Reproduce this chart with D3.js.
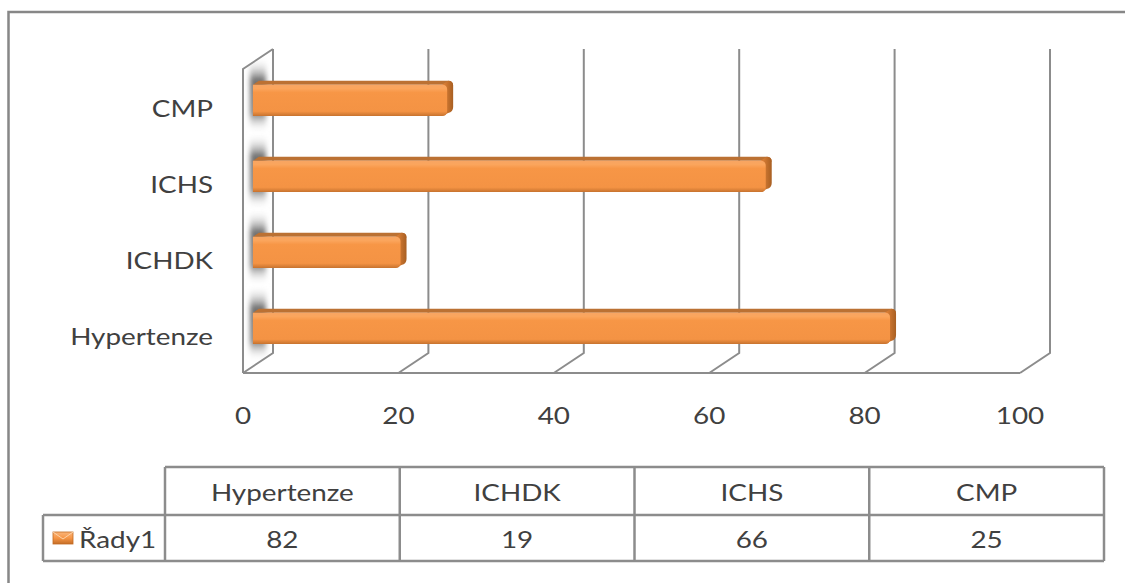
<!DOCTYPE html>
<html>
<head>
<meta charset="utf-8">
<script src="https://cdn.jsdelivr.net/npm/d3@7"></script>
<style>
  html, body { margin: 0; padding: 0; background: #fff; }
  svg { display: block; }
  text { font-family: Lato, "Open Sans", sans-serif; fill: #404040; }
</style>
</head>
<body>
<svg id="chart" width="1125" height="583"></svg>
<script>
// Data
const categories = ["Hypertenze", "ICHDK", "ICHS", "CMP"];
const values = [82, 19, 66, 25];
const tickValues = [0, 20, 40, 60, 80, 100];
const seriesName = "Řady1";

const svg = d3.select("#chart");
const W = 1125, H = 583;

// 3D frame geometry
const depthX = 30, depthY = 20;      // offset of back plane from front plane
const frontTop = 69, floorY = 373;   // front plane vertical extent
const d1 = 0.33, d2 = 0.53;          // bar depth, as fraction of the frame depth
const textScale = 1.16;
const gridColor = "#8c8c8c";

const x = d3.scaleLinear().domain([0, 100]).range([243, 1020]);
const y = d3.scaleBand().domain(categories.slice().reverse()).range([frontTop, floorY]);
const barH = y.bandwidth() * 0.41;

const defs = svg.append("defs");

const gFront = defs.append("linearGradient").attr("id", "barFront")
  .attr("x1", 0).attr("y1", 0).attr("x2", 0).attr("y2", 1);
[[0, "#f7a563"], [0.12, "#fba55c"], [0.25, "#f79646"], [0.85, "#f49344"], [1, "#c7732f"]]
  .forEach(([o, c]) => gFront.append("stop").attr("offset", o).attr("stop-color", c));

const gEnd = defs.append("linearGradient").attr("id", "barEnd")
  .attr("x1", 0).attr("y1", 0).attr("x2", 1).attr("y2", 0);
[[0, "#e4853a"], [1, "#a85f22"]]
  .forEach(([o, c]) => gEnd.append("stop").attr("offset", o).attr("stop-color", c));

const gIcon = defs.append("linearGradient").attr("id", "iconFill")
  .attr("x1", 0).attr("y1", 0).attr("x2", 0).attr("y2", 1);
[[0, "#f9b57a"], [0.5, "#f79646"], [1, "#c46d27"]]
  .forEach(([o, c]) => gIcon.append("stop").attr("offset", o).attr("stop-color", c));

const gShadow = defs.append("linearGradient").attr("id", "wallShadow")
  .attr("x1", 0).attr("y1", 0).attr("x2", 0).attr("y2", 1);
[[0, "#ffffff", 0], [0.3, "#6f6f6f", 1], [0.75, "#858585", 1], [1, "#ffffff", 0]]
  .forEach(([o, c, a]) => gShadow.append("stop").attr("offset", o).attr("stop-color", c).attr("stop-opacity", a));

defs.append("filter").attr("id", "soft").attr("x", "-50%").attr("y", "-50%")
  .attr("width", "200%").attr("height", "200%")
  .append("feGaussianBlur").attr("stdDeviation", 2.5);

// Side wall polygon
const wallPts = [
  [x(0), frontTop], [x(0) + depthX, frontTop - depthY],
  [x(0) + depthX, floorY - depthY], [x(0), floorY]
];
defs.append("clipPath").attr("id", "wallClip")
  .append("polygon").attr("points", wallPts.map(p => p.join(",")).join(" "));

// Outer chart border
svg.append("rect")
  .attr("x", 8.5).attr("y", 12).attr("width", W + 20).attr("height", H + 20)
  .attr("fill", "none").attr("stroke", "#878787").attr("stroke-width", 2.5);

// Bar shadows cast on the side wall
const shadows = svg.append("g").attr("clip-path", "url(#wallClip)");
categories.forEach(c => {
  const yc = y(c) + y.bandwidth() / 2;
  shadows.append("rect")
    .attr("x", x(0) + 7).attr("width", 16)
    .attr("y", yc - barH / 2 - 34).attr("height", barH + 44)
    .attr("fill", "url(#wallShadow)").attr("filter", "url(#soft)");
});

// Frame lines
const frame = svg.append("g").attr("fill", "none").attr("stroke", gridColor).attr("stroke-width", 2);
frame.append("polyline")
  .attr("points", [[x(0), floorY], [x(0), frontTop], [x(0) + depthX, frontTop - depthY]].map(p => p.join(",")).join(" "));
frame.append("line")
  .attr("x1", x(0)).attr("y1", floorY).attr("x2", x(100)).attr("y2", floorY);

// Back gridlines with their floor diagonals
tickValues.forEach(v => {
  frame.append("polyline")
    .attr("points", [
      [x(v) + depthX, frontTop - depthY],
      [x(v) + depthX, floorY - depthY],
      [x(v), floorY]
    ].map(p => p.join(",")).join(" "));
});

// Bars
const bars = svg.append("g");
categories.forEach((c, i) => {
  const v = values[i];
  const yc = y(c) + y.bandwidth() / 2 - depthY * d1;
  const xl = x(0) + depthX * d1, xr = x(v) + depthX * d1;
  const yt = yc - barH / 2, yb = yc + barH / 2;
  const dx = depthX * (d2 - d1), dy = depthY * (d2 - d1);
  const r = 5;
  // top face
  bars.append("path")
    .attr("d", `M${xl},${yt} L${xl + dx},${yt - dy} L${xr + dx - r},${yt - dy} Q${xr + dx},${yt - dy} ${xr + dx},${yt - dy + r} L${xr},${yt} Z`)
    .attr("fill", "#bb7133");
  // end face
  bars.append("path")
    .attr("d", `M${xr - r},${yt} L${xr + dx - r},${yt - dy} Q${xr + dx},${yt - dy} ${xr + dx},${yt - dy + r} L${xr + dx},${yb - dy - r} Q${xr + dx},${yb - dy} ${xr + dx - r},${yb - dy + 1} L${xr - r},${yb} Z`)
    .attr("fill", "url(#barEnd)");
  // front face
  bars.append("path")
    .attr("d", `M${xl},${yt} L${xr - r},${yt} Q${xr},${yt} ${xr},${yt + r} L${xr},${yb - r} Q${xr},${yb} ${xr - r},${yb} L${xl},${yb} Z`)
    .attr("fill", "url(#barFront)");
});

function label(g, tx, ty, str, anchor) {
  return g.append("text")
    .attr("transform", `translate(${tx},${ty}) scale(${textScale},1)`)
    .attr("text-anchor", anchor)
    .attr("dominant-baseline", "central")
    .attr("font-size", 24)
    .text(str);
}

// Category labels
const labels = svg.append("g");
categories.forEach(c => {
  label(labels, 213, y(c) + y.bandwidth() / 2 + 1, c, "end");
});

// Value axis labels
tickValues.forEach(v => label(labels, x(v), 415, v, "middle"));

// Data table
const col = d3.scaleBand().domain(categories).range([165, 1104]);
const tTop = 467, tMid = 515, tBot = 561, tLeft = 43;
const table = svg.append("g").attr("stroke", gridColor).attr("stroke-width", 2.5).attr("fill", "none");
table.append("line").attr("x1", col.range()[0]).attr("x2", col.range()[1]).attr("y1", tTop).attr("y2", tTop);
table.append("line").attr("x1", tLeft).attr("x2", col.range()[1]).attr("y1", tMid).attr("y2", tMid);
table.append("line").attr("x1", tLeft).attr("x2", col.range()[1]).attr("y1", tBot).attr("y2", tBot);
table.append("line").attr("x1", tLeft).attr("x2", tLeft).attr("y1", tMid).attr("y2", tBot);
categories.forEach(c => {
  table.append("line").attr("x1", col(c)).attr("x2", col(c)).attr("y1", tTop).attr("y2", tBot);
});
table.append("line").attr("x1", col.range()[1]).attr("x2", col.range()[1]).attr("y1", tTop).attr("y2", tBot);

const tText = svg.append("g");
categories.forEach((c, i) => {
  const cx = col(c) + col.bandwidth() / 2;
  label(tText, cx, (tTop + tMid) / 2 + 1, c, "middle");
  label(tText, cx, (tMid + tBot) / 2 + 1, values[i], "middle");
});

// Series key in the table
svg.append("rect").attr("x", 53).attr("y", 532).attr("width", 20).attr("height", 12)
  .attr("fill", "url(#iconFill)").attr("stroke", "#c26a22").attr("stroke-width", 0.8);
svg.append("polyline").attr("points", "53,532 63,539 73,532")
  .attr("fill", "none").attr("stroke", "#fcd2a8").attr("stroke-width", 1);
label(tText, 79, (tMid + tBot) / 2 + 1, seriesName, "start");
</script>
</body>
</html>
